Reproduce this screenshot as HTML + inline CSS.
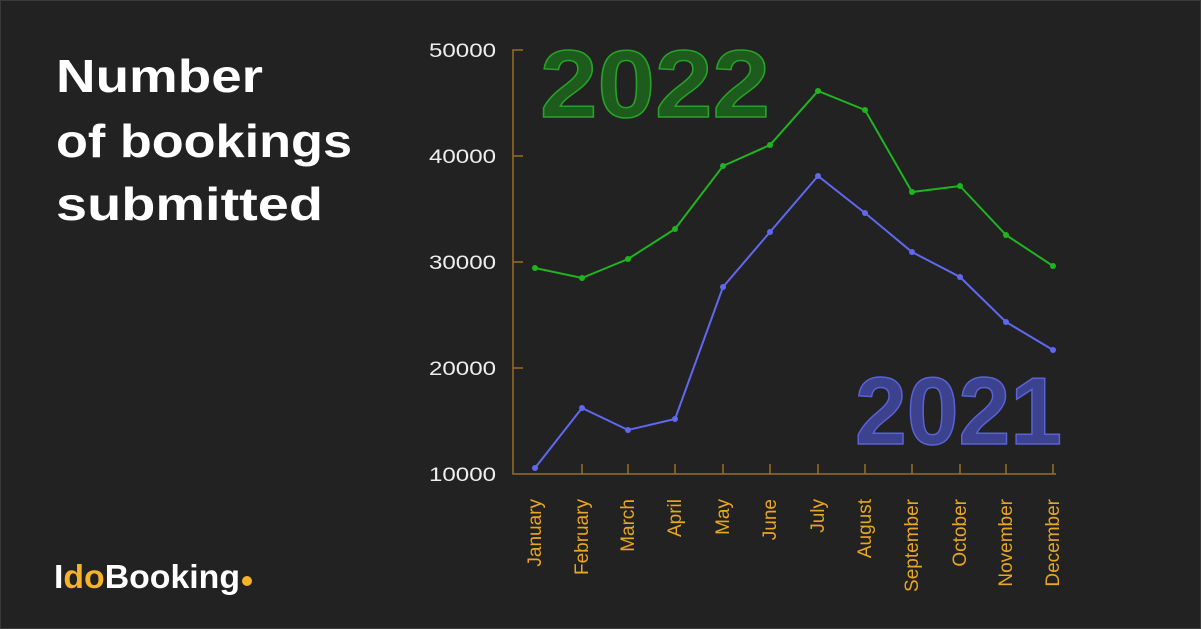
<!DOCTYPE html>
<html><head><style>
body{margin:0;background:#222;}
svg{display:block;}
</style></head><body>
<svg width="1201" height="629" viewBox="0 0 1201 629" xmlns="http://www.w3.org/2000/svg" font-family="Liberation Sans, sans-serif">
<rect x="0.5" y="0.5" width="1200" height="628" fill="#222" stroke="#3a3a3a"/>
<g font-size="46" font-weight="bold" fill="#fff">
<text x="56" y="92" textLength="207" lengthAdjust="spacingAndGlyphs">Number</text>
<text x="56" y="157" textLength="296" lengthAdjust="spacingAndGlyphs">of bookings</text>
<text x="56" y="220" textLength="267" lengthAdjust="spacingAndGlyphs">submitted</text>
</g>
<text x="54" y="588" font-size="33" font-weight="bold" fill="#fff" textLength="186" lengthAdjust="spacingAndGlyphs"><tspan>I</tspan><tspan fill="#f5b22a">do</tspan><tspan>Booking</tspan></text>
<circle cx="247" cy="581" r="5" fill="#f5b22a"/>
<text x="540" y="117" font-size="96" font-weight="bold" fill="#1d5c1d" stroke="#26a326" stroke-width="1.5" textLength="230" lengthAdjust="spacingAndGlyphs">2022</text>
<text x="855" y="444" font-size="96" font-weight="bold" fill="#3c428e" stroke="#5a62d8" stroke-width="1.5" textLength="207" lengthAdjust="spacingAndGlyphs">2021</text>
<g stroke="#9a6e22" stroke-width="1.5" fill="none">
<path d="M523 50H513V474H1056"/>
<path d="M513 156H523M513 262H523M513 368H523"/>
<path d="M582 474v-10M628 474v-10M675 474v-10M723 474v-10M770 474v-10M818 474v-10M865 474v-10M912 474v-10M960 474v-10M1006 474v-10M1053 474v-10"/>
</g>
<g font-size="19" fill="#eee">
<text x="429" y="57" textLength="67" lengthAdjust="spacingAndGlyphs">50000</text>
<text x="429" y="163" textLength="67" lengthAdjust="spacingAndGlyphs">40000</text>
<text x="429" y="269" textLength="67" lengthAdjust="spacingAndGlyphs">30000</text>
<text x="429" y="375" textLength="67" lengthAdjust="spacingAndGlyphs">20000</text>
<text x="429" y="481" textLength="67" lengthAdjust="spacingAndGlyphs">10000</text>
</g>
<g font-size="19" fill="#e8a624" text-anchor="end">
<text transform="translate(541,499) rotate(-90)">January</text>
<text transform="translate(588,499) rotate(-90)">February</text>
<text transform="translate(634,499) rotate(-90)">March</text>
<text transform="translate(681,499) rotate(-90)">April</text>
<text transform="translate(729,499) rotate(-90)">May</text>
<text transform="translate(776,499) rotate(-90)">June</text>
<text transform="translate(824,499) rotate(-90)">July</text>
<text transform="translate(871,499) rotate(-90)">August</text>
<text transform="translate(918,499) rotate(-90)">September</text>
<text transform="translate(966,499) rotate(-90)">October</text>
<text transform="translate(1012,499) rotate(-90)">November</text>
<text transform="translate(1059,499) rotate(-90)">December</text>
</g>
<polyline fill="none" stroke="#1fb51f" stroke-width="2" points="535,268 582,278 628,259 675,229 723,166 770,145 818,91 865,110 912,192 960,186 1006,235 1053,266"/>
<polyline fill="none" stroke="#5f68f0" stroke-width="2" points="535,468 582,408 628,430 675,419 723,287 770,232 818,176 865,213 912,252 960,277 1006,322 1053,350"/>
<g fill="#1fb51f"><circle cx="535" cy="268" r="3"/><circle cx="582" cy="278" r="3"/><circle cx="628" cy="259" r="3"/><circle cx="675" cy="229" r="3"/><circle cx="723" cy="166" r="3"/><circle cx="770" cy="145" r="3"/><circle cx="818" cy="91" r="3"/><circle cx="865" cy="110" r="3"/><circle cx="912" cy="192" r="3"/><circle cx="960" cy="186" r="3"/><circle cx="1006" cy="235" r="3"/><circle cx="1053" cy="266" r="3"/></g>
<g fill="#5f68f0"><circle cx="535" cy="468" r="3"/><circle cx="582" cy="408" r="3"/><circle cx="628" cy="430" r="3"/><circle cx="675" cy="419" r="3"/><circle cx="723" cy="287" r="3"/><circle cx="770" cy="232" r="3"/><circle cx="818" cy="176" r="3"/><circle cx="865" cy="213" r="3"/><circle cx="912" cy="252" r="3"/><circle cx="960" cy="277" r="3"/><circle cx="1006" cy="322" r="3"/><circle cx="1053" cy="350" r="3"/></g>
</svg>
</body></html>
